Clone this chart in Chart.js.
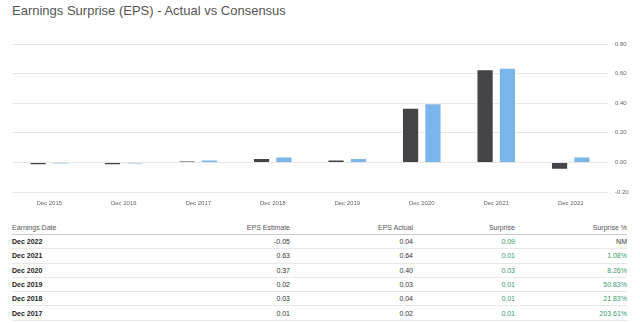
<!DOCTYPE html>
<html>
<head>
<meta charset="utf-8">
<script src="https://cdn.jsdelivr.net/npm/chart.js@4"></script>
<style>
  body { margin: 0; width: 640px; height: 323px; background: #fff; font-family: "Liberation Sans", Arial, sans-serif; overflow: hidden; position: relative; }
  .title { position: absolute; left: 12px; top: 3px; font-size: 13px; color: #555; }
  .chart-box { position: absolute; left: 0; top: 28px; width: 640px; height: 184px; }
  table { position: absolute; left: 12px; top: 221px; width: 615px; border-collapse: collapse; table-layout: fixed; font-size: 7px; color: #333; }
  th { font-weight: normal; color: #555; height: 13px; padding: 0; border-bottom: 1.5px solid #ccc; text-align: right; }
  th.first { text-align: left; }
  td { height: 13.3px; padding: 0; border-bottom: 1px solid #e8e8e8; text-align: right; }
  td.date { text-align: left; font-weight: bold; color: #222; }
  td.pos { color: #3a9a6a; }
</style>
</head>
<body>
<div class="title">Earnings Surprise (EPS) - Actual vs Consensus</div>
<div class="chart-box"><canvas id="eps-chart"></canvas></div>
<table id="eps-table">
  <colgroup><col style="width:158px"><col style="width:120px"><col style="width:123px"><col style="width:102px"><col style="width:112px"></colgroup>
  <thead><tr><th class="first">Earnings Date</th><th>EPS Estimate</th><th>EPS Actual</th><th>Surprise</th><th>Surprise %</th></tr></thead>
  <tbody></tbody>
</table>
<script>
let years = ["Dec 2015", "Dec 2016", "Dec 2017", "Dec 2018", "Dec 2019", "Dec 2020", "Dec 2021", "Dec 2022"];
let epsEstimate = [-0.02, -0.02, 0.01, 0.03, 0.02, 0.37, 0.63, -0.05];
let epsActual = [-0.01, -0.01, 0.02, 0.04, 0.03, 0.40, 0.64, 0.04];

// table rows (newest first)
let tableDates = ["Dec 2022", "Dec 2021", "Dec 2020", "Dec 2019", "Dec 2018", "Dec 2017"];
let tableEstimate = ["-0.05", "0.63", "0.37", "0.02", "0.03", "0.01"];
let tableActual = ["0.04", "0.64", "0.40", "0.03", "0.04", "0.02"];
let tableSurprise = ["0.09", "0.01", "0.03", "0.01", "0.01", "0.01"];
let tableSurprisePct = ["NM", "1.08%", "8.26%", "50.83%", "21.83%", "203.61%"];

let rows = "";
for (let i = 0; i < tableDates.length; i++) {
  let pctClass = tableSurprisePct[i] === "NM" ? "" : "pos";
  rows += `<tr><td class="date">${tableDates[i]}</td><td>${tableEstimate[i]}</td><td>${tableActual[i]}</td><td class="pos">${tableSurprise[i]}</td><td class="${pctClass}">${tableSurprisePct[i]}</td></tr>`;
}
document.querySelector("#eps-table tbody").innerHTML = rows;

new Chart(document.getElementById("eps-chart"), {
  type: "bar",
  data: {
    labels: years,
    datasets: [
      { label: "EPS Estimate", data: epsEstimate, backgroundColor: "#434348", borderColor: "rgba(255,255,255,0.3)", borderWidth: 1, borderRadius: 1 },
      { label: "EPS Actual", data: epsActual, backgroundColor: "#7cb5ec", borderColor: "rgba(255,255,255,0.3)", borderWidth: 1, borderRadius: 1 }
    ]
  },
  options: {
    responsive: true,
    maintainAspectRatio: false,
    animation: false,
    categoryPercentage: 0.6,
    barPercentage: 0.77,
    layout: { padding: { top: 16, left: 12, right: 0, bottom: 0 } },
    plugins: { legend: { display: false }, tooltip: { enabled: false } },
    scales: {
      x: {
        grid: { display: false, drawTicks: false },
        border: { display: false },
        ticks: { color: "#666", font: { size: 6, family: "'Liberation Sans', Arial" }, padding: 8, maxRotation: 0 },
        afterFit: (axis) => { axis.height = 20; }
      },
      y: {
        position: "right",
        min: -0.2,
        max: 0.8,
        grid: { color: "#e6e6e6", drawTicks: false },
        border: { display: false },
        ticks: { stepSize: 0.2, color: "#666", padding: 7, font: { size: 6, family: "'Liberation Sans', Arial" }, callback: (v) => v.toFixed(2) },
        afterFit: (axis) => { axis.width = 32; }
      }
    }
  }
});
</script>
</body>
</html>
